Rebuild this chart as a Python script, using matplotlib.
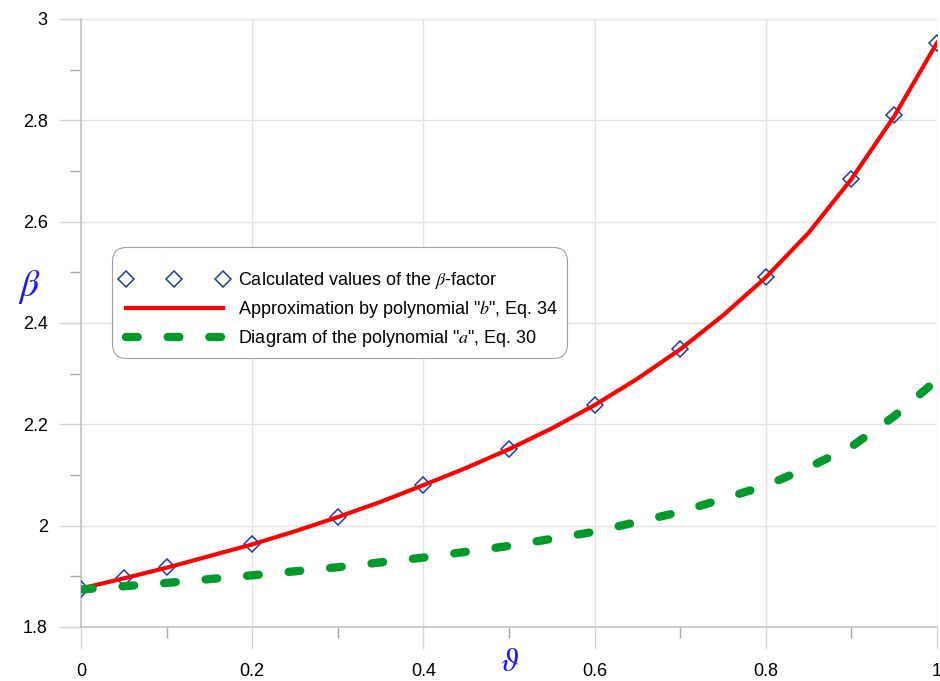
import matplotlib
matplotlib.use('Agg')
from matplotlib import pyplot as plt
from matplotlib.ticker import MultipleLocator

plt.rcParams['font.family'] = ['Liberation Sans', 'DejaVu Sans']
plt.rcParams['mathtext.fontset'] = 'stix'

# calculated beta values (diamonds)
calc_x = [0, 0.05, 0.1, 0.2, 0.3, 0.4, 0.5, 0.6, 0.7, 0.8, 0.9, 0.95, 1.0]
calc_y = [1.875, 1.897, 1.918, 1.963, 2.018, 2.080, 2.151, 2.238, 2.348, 2.490, 2.684, 2.810, 2.953]

# polynomial "b" approximation (red)
poly_b_x = [0, 0.05, 0.1, 0.15, 0.2, 0.25, 0.3, 0.35, 0.4, 0.45, 0.5, 0.55, 0.6, 0.65, 0.7,
            0.75, 0.8, 0.85, 0.9, 0.95, 1.0]
poly_b_y = [1.876, 1.896, 1.917, 1.940, 1.963, 1.989, 2.017, 2.047, 2.080, 2.114, 2.151, 2.192,
            2.238, 2.290, 2.348, 2.415, 2.490, 2.578, 2.684, 2.808, 2.953]

# polynomial "a" (green dashed)
poly_a_x = [0, 0.1, 0.2, 0.3, 0.4, 0.5, 0.6, 0.7, 0.75, 0.8, 0.85, 0.9, 0.95, 1.0]
poly_a_y = [1.874, 1.887, 1.902, 1.918, 1.937, 1.960, 1.988, 2.027, 2.053, 2.079, 2.115, 2.156,
            2.216, 2.288]

fig = plt.figure(figsize=(9.4, 6.81), dpi=100)
ax = fig.add_axes([0.0862, 0.0793, 0.9106, 0.8928])

ax.plot(calc_x, calc_y, linestyle='none', marker='D', ms=8.3, mfc='none', mec='#1a3caa', mew=1.1,
        label=r'Calculated values of the $\beta$-factor', zorder=3)
ax.plot(poly_b_x, poly_b_y, color='#ff0000', lw=3, label=r'Approximation by polynomial "$b$", Eq. 34',
        zorder=4)
ax.plot(poly_a_x, poly_a_y, color='#009a2c', lw=6, dashes=(1.4, 3.6), dash_capstyle='round',
        label=r'Diagram of the polynomial "$a$", Eq. 30', zorder=5)

ax.set_xlim(0, 1)
ax.set_ylim(1.8, 3)
ax.xaxis.set_major_locator(MultipleLocator(0.2))
ax.xaxis.set_minor_locator(MultipleLocator(0.1))
ax.yaxis.set_major_locator(MultipleLocator(0.2))
ax.yaxis.set_minor_locator(MultipleLocator(0.1))
ax.xaxis.set_major_formatter(lambda v, p: f'{v:g}')
ax.yaxis.set_major_formatter(lambda v, p: f'{v:g}')

ax.grid(True, which='major', color='#e2e2e2', lw=1)
ax.tick_params(which='major', length=16, width=1, color='#d4d4d4', labelsize=13, pad=8)
ax.tick_params(axis='x', which='major', pad=10)
ax.tick_params(which='minor', length=8, width=1, color='#a8a8a8')
for s in ['top', 'right']:
    ax.spines[s].set_visible(False)
for s in ['left', 'bottom']:
    ax.spines[s].set_color('#c4c4c4')
    ax.spines[s].set_linewidth(1.2)

ax.set_ylabel(r'$\beta$', color='#1a1aff', fontsize=27, rotation=0, va='center', ha='center')
ax.yaxis.set_label_coords(-0.06, 0.559)
ax.set_xlabel(r'$\vartheta$', color='#1a1aff', fontsize=24, va='center')
ax.xaxis.set_label_coords(0.501, -0.058)

leg = ax.legend(loc='upper left', bbox_to_anchor=(0.0362, 0.625), borderaxespad=0, fontsize=13,
                numpoints=3, handlelength=6.0, handletextpad=0.55, borderpad=0.45, labelspacing=0.45,
                title=' ', title_fontsize=6,
                fancybox=True, framealpha=1, edgecolor='#a0a0a0')
leg.get_frame().set_linewidth(0.8)
leg.get_frame().set_boxstyle('round,pad=0,rounding_size=0.8')

plt.savefig('out.png')
